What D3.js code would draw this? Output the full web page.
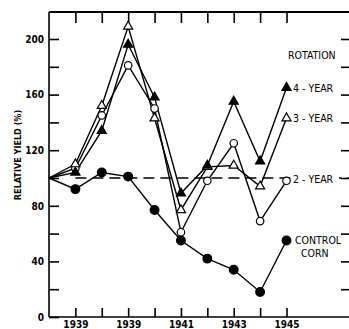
<!DOCTYPE html>
<html>
<head>
<meta charset="utf-8">
<script src="https://cdn.jsdelivr.net/npm/d3@7"></script>
<style>
  body { margin: 0; background: #fff; }
  svg { display: block; }
  .axis path, .axis line { stroke: #000; stroke-width: 1.6; }
  .axis text { font-family: "Liberation Sans Narrow", "DejaVu Sans Condensed", sans-serif; font-weight: bold; font-size: 10px; fill: #000; }
  .lbl { font-family: "DejaVu Sans Condensed", "Liberation Sans Narrow", sans-serif; font-size: 10.5px; fill: #000; }
</style>
</head>
<body>
<svg id="chart" width="349" height="329"></svg>
<script>
// years, 1936 is the common start (100 %)
const years = [1936, 1937, 1938, 1939, 1940, 1941, 1942, 1943, 1944, 1945];
const fourYear  = [100, 104, 134, 196, 158, 89, 109, 155, 112, 165];
const threeYear = [100, 110, 152, 209, 143, 77, 108, 109, 94, 143];
const twoYear   = [100, 107, 145, 181, 150, 61, 98, 125, 69, 98];
const control   = [100, 92, 104, 101, 77, 55, 42, 34, 18, 55];

const xTickYears = [1937, 1938, 1939, 1940, 1941, 1942, 1943, 1944, 1945];
const xLabels = {1937: "1939", 1939: "1939", 1941: "1941", 1943: "1943", 1945: "1945"};
const yTicks = [0, 20, 40, 60, 80, 100, 120, 140, 160, 180, 200];

const svg = d3.select("#chart");
const pLeft = 49, pRight = 349, pTop = 12, pBottom = 317;

const x = d3.scaleLinear().domain([1936, 1945]).range([pLeft, 286.5]);
const y = d3.scaleLinear().domain([0, 200]).range([pBottom, 39]);

// frame
svg.append("line").attr("x1", pLeft).attr("x2", pRight).attr("y1", pTop).attr("y2", pTop)
  .attr("stroke", "#000").attr("stroke-width", 1.8);

svg.append("g").attr("class", "axis")
  .attr("transform", `translate(${pLeft},0)`)
  .call(d3.axisLeft(y).tickValues(yTicks).tickSizeInner(-10).tickSizeOuter(0).tickPadding(5)
    .tickFormat(d => d % 40 === 0 ? d : ""))
  .call(g => g.select(".domain").attr("d", `M0,${pTop}V${pBottom}`));

svg.append("g").attr("class", "axis")
  .attr("transform", `translate(0,${pBottom})`)
  .call(d3.axisBottom(x).tickValues(xTickYears).tickSizeInner(-9).tickSizeOuter(0).tickPadding(4)
    .tickFormat(d => xLabels[d] || ""))
  .call(g => g.select(".domain").attr("d", `M${pLeft},0H${pRight}`));

svg.append("g").attr("class", "axis")
  .attr("transform", `translate(0,${pTop})`)
  .call(d3.axisTop(x).tickValues(xTickYears).tickSizeInner(-11).tickSizeOuter(0).tickFormat(""))
  .call(g => g.select(".domain").remove());

svg.append("g").attr("class", "axis")
  .attr("transform", `translate(${pRight},0)`)
  .call(d3.axisRight(y).tickValues(yTicks.filter(d => d > 0)).tickSizeInner(-8).tickSizeOuter(0).tickFormat(""))
  .call(g => g.select(".domain").remove());

// y title
svg.append("text").attr("class", "lbl")
  .attr("transform", `translate(21,155) rotate(-90)`)
  .attr("text-anchor", "middle")
  .style("font-weight", "bold")
  .style("font-size", "9px")
  .text("RELATIVE YIELD (%)");

// 100 % reference line
svg.append("line")
  .attr("x1", x(1937)).attr("x2", pRight)
  .attr("y1", y(100)).attr("y2", y(100))
  .attr("stroke", "#000").attr("stroke-width", 1.4)
  .attr("stroke-dasharray", "11,6");

const line = d3.line().x((d, i) => x(years[i])).y(d => y(d));

const series = [
  {values: control, shape: "circle", fill: "#000"},
  {values: twoYear, shape: "circle", fill: "#fff"},
  {values: threeYear, shape: "triangle", fill: "#fff"},
  {values: fourYear, shape: "triangle", fill: "#000"}
];

series.forEach(s => {
  svg.append("path").datum(s.values)
    .attr("d", line)
    .attr("fill", "none").attr("stroke", "#000").attr("stroke-width", 1.4);
});

series.forEach(s => {
  const sym = s.shape === "circle"
    ? d3.symbol(d3.symbolCircle, s.fill === "#000" ? 60 : 44)
    : d3.symbol(d3.symbolTriangle, 36);
  svg.selectAll(null)
    .data(s.values.slice(1))
    .enter()
    .append("path")
    .attr("d", sym)
    .attr("transform", (d, i) => `translate(${x(years[i + 1])},${y(d)})`)
    .attr("fill", s.fill)
    .attr("stroke", "#000").attr("stroke-width", 1.2);
});

// labels at the right
const labels = [
  {t: "ROTATION", x: 288, y: 59},
  {t: "4 - YEAR", x: 293, y: 92},
  {t: "3 - YEAR", x: 293, y: 122},
  {t: "2 - YEAR", x: 293, y: 183, knock: true},
  {t: "CONTROL", x: 295, y: 244},
  {t: "CORN", x: 301, y: 257}
];
labels.forEach(l => {
  if (l.knock) {
    svg.append("rect").attr("x", l.x - 1).attr("y", l.y - 9).attr("width", 47).attr("height", 11).attr("fill", "#fff");
  }
  svg.append("text").attr("class", "lbl").attr("x", l.x).attr("y", l.y).text(l.t);
});
</script>
</body>
</html>
